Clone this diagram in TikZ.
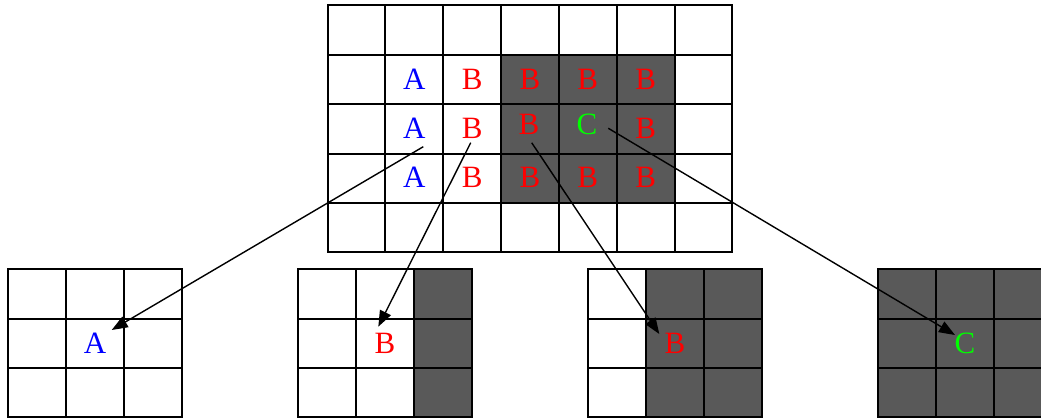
\documentclass[tikz,border=0pt]{standalone}
\usepackage{fontspec}
\setmainfont{Liberation Serif}
\usetikzlibrary{arrows.meta}
\definecolor{cellgray}{HTML}{595959}
\definecolor{lblue}{HTML}{0000FF}
\definecolor{lred}{HTML}{FF0000}
\definecolor{lgreen}{HTML}{00FF00}
\begin{document}
\begin{tikzpicture}[x=1pt,y=-1pt,
  gridline/.style={line width=2pt,line cap=rect},
  lett/.style={inner sep=0pt,font=\fontsize{31}{37}\selectfont},
  la/.style={lett,text=lblue},
  lb/.style={lett,text=lred},
  lc/.style={lett,text=lgreen},
  ptr/.style={line width=1.4pt,-{Triangle[length=16pt,width=12pt]}}]
\useasboundingbox (0,0) rectangle (1041,420);
% ---- top grid ----
\fill[cellgray] (501.0,54.9) rectangle (674.5,202.9);
\foreach \x in {327.5,385.3,443.2,501.0,558.8,616.7,674.5,732.3}
  \draw[gridline] (\x,5.5) -- (\x,252.3);
\foreach \y in {5.5,54.9,104.2,153.6,202.9,252.3}
  \draw[gridline] (327.5,\y) -- (732.3,\y);
% row 1
\node[la] (a1) at (414.3,79.5) {A};
\node[lb] (b11) at (472.1,79.5) {B};
\node[lb] (b12) at (529.9,79.5) {B};
\node[lb] (b13) at (587.8,79.5) {B};
\node[lb] (b14) at (645.6,79.5) {B};
% row 2
\node[la] (a2) at (414.3,128.4) {A};
\node[lb] (b21) at (472.1,128.4) {B};
\node[lb] (b22) at (529.0,124.0) {B};
\node[lc] (c)   at (587.0,124.0) {C};
\node[lb] (b24) at (645.6,128.4) {B};
% row 3
\node[la] (a3) at (414.3,177.5) {A};
\node[lb] (b31) at (472.1,177.5) {B};
\node[lb] (b32) at (529.9,177.5) {B};
\node[lb] (b33) at (587.8,177.5) {B};
\node[lb] (b34) at (645.6,177.5) {B};
% ---- bottom grids ----
\begin{scope}[shift={(8.3,269.3)}]
  \foreach \x in {0,57.8,115.6,173.4} \draw[gridline] (\x,0) -- (\x,148);
  \foreach \y in {0,49.4,98.7,148} \draw[gridline] (0,\y) -- (173.4,\y);
  \node[la] (ta) at (86.7,74) {A};
\end{scope}
\begin{scope}[shift={(298.3,269.3)}]
  \fill[cellgray] (115.6,0) rectangle (173.4,148);
  \foreach \x in {0,57.8,115.6,173.4} \draw[gridline] (\x,0) -- (\x,148);
  \foreach \y in {0,49.4,98.7,148} \draw[gridline] (0,\y) -- (173.4,\y);
  \node[lb] (tb1) at (86.7,74) {B};
\end{scope}
\begin{scope}[shift={(588.3,269.3)}]
  \fill[cellgray] (57.8,0) rectangle (173.4,148);
  \foreach \x in {0,57.8,115.6,173.4} \draw[gridline] (\x,0) -- (\x,148);
  \foreach \y in {0,49.4,98.7,148} \draw[gridline] (0,\y) -- (173.4,\y);
  \node[lb] (tb2) at (86.7,74) {B};
\end{scope}
\begin{scope}[shift={(878.3,269.3)}]
  \fill[cellgray] (0,0) rectangle (173.4,148);
  \foreach \x in {0,57.8,115.6,173.4} \draw[gridline] (\x,0) -- (\x,148);
  \foreach \y in {0,49.4,98.7,148} \draw[gridline] (0,\y) -- (173.4,\y);
  \node[lc] (tc) at (86.7,74) {C};
\end{scope}
% ---- arrows ----
\coordinate (s1) at (423.3,146.7);
\coordinate (s2) at (470.7,142.7);
\coordinate (s3) at (531.7,142.7);
\coordinate (s4) at (608.3,128.3);
\coordinate (t1) at (111.7,330);
\coordinate (t2) at (378.3,326.7);
\coordinate (t3) at (659.3,334);
\coordinate (t4) at (955,335);
\draw[ptr] (s1) -- (t1);
\draw[ptr] (s2) -- (t2);
\draw[ptr] (s3) -- (t3);
\draw[ptr] (s4) -- (t4);
\end{tikzpicture}
\end{document}
